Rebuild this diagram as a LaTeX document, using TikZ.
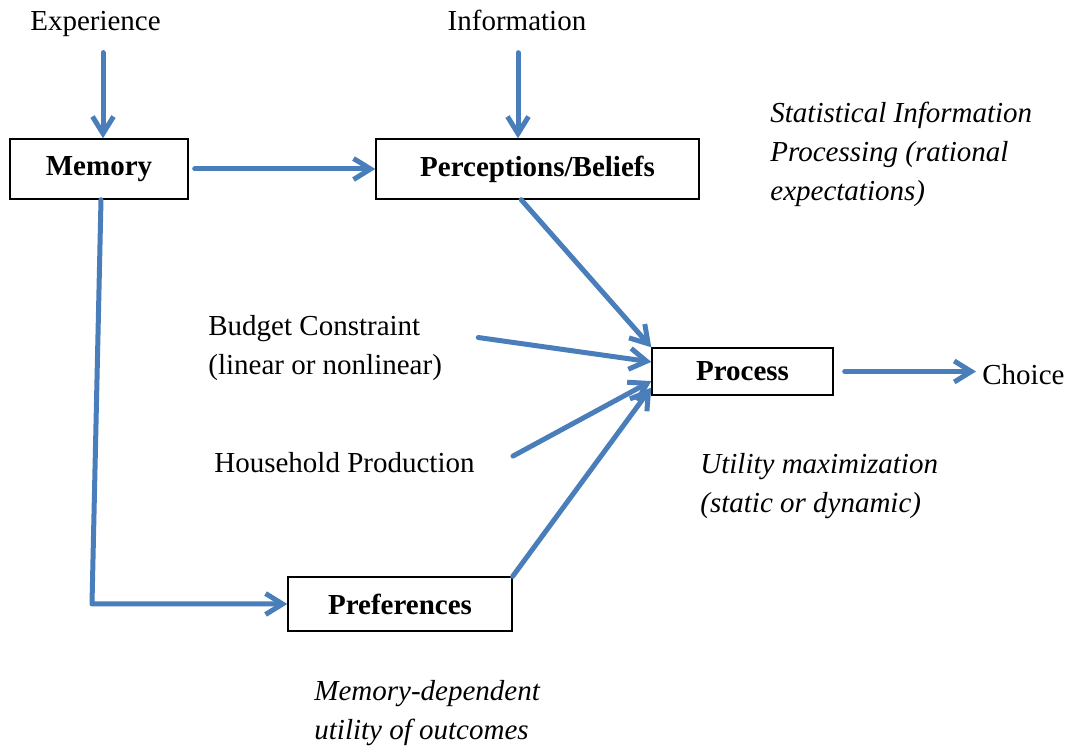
\documentclass[tikz,border=0pt]{standalone}
\usepackage{fontspec}
\setmainfont{Liberation Serif}
\usetikzlibrary{arrows.meta}

\definecolor{flowblue}{HTML}{4A7EBB}
\newcommand{\diagsize}{\fontsize{14.5}{19.5}\selectfont}

\begin{document}
\begin{tikzpicture} [x=0.5pt, y=-0.5pt,
            box/.style = {draw=black, line width=0.7pt, inner sep=0pt,
                minimum height=30pt, font=\diagsize\bfseries},
            txt/.style = {inner sep=0pt, align=left, font=\diagsize},
            remark/.style = {inner sep=0pt, align=left, font=\diagsize\itshape},
            flow/.style = {color=flowblue, line width=2.5pt, line cap=round,
                line join=round, -{Straight Barb[length=8.5pt, width=10.5pt]}}]

        \useasboundingbox (0,0) rectangle (1073,753);

        % Memory
        \node (memory) [box, minimum width=89pt] at (99,169) {Memory};

        % Perceptions/Beliefs
        \node (beliefs) [box, minimum width=161.5pt] at (537.5,169) {Perceptions/Beliefs};

        % Process
        \node (process) [box, minimum width=90.5pt,
            minimum height=23.5pt] at (742.5,371.5) {Process};

        % Preferences
        \node (prefs) [box, minimum width=112pt,
            minimum height=27pt] at (400,604) {Preferences};

        % Inputs and output
        \node (experience) [txt, anchor=base] at (95.5,31) {Experience};
        \node (information) [txt, anchor=base] at (517,31) {Information};
        \node (budget) [txt, anchor=base west] at (208,375)
            {Budget Constraint\\(linear or nonlinear)};
        \node (household) [txt, anchor=base west] at (214,473) {Household Production};
        \node (choice) [txt, anchor=base west] at (982,385) {Choice};

        % Remarks
        \node (statinfo) [remark, anchor=base west] at (770,201)
            {Statistical Information\\Processing (rational\\expectations)};
        \node (utility) [remark, anchor=base west] at (700,513)
            {Utility maximization\\(static or dynamic)};
        \node (memutil) [remark, anchor=base west] at (314,740)
            {Memory-dependent\\utility of outcomes};

        \coordinate (bend) at (92,604);

        % Arrows
        \path [flow]
            ([shift={(7.5,0)}]experience.south) edge [shorten <=7.5pt] ([shift={(4,0)}]memory.north)
            ([shift={(1,0)}]information.south) edge [shorten <=10.5pt] ([shift={(-19.5,0)}]beliefs.north)
            (memory) edge [shorten <=3pt] (beliefs)
            (beliefs.242) edge (process.north west)
            ([shift={(36,-11)}]budget.east) edge (process.174)
            ([shift={(38,-7)}]household.east) edge (process.186)
            (prefs.north east) edge (process.190)
            (process.east) edge [shorten <=5.5pt, shorten >=3pt] (process.east -| choice.west)
            ;

        \draw [flow] ([shift={(2,0)}]memory.south) -- (bend) -- (prefs.west);
        \end{tikzpicture}
\end{document}
